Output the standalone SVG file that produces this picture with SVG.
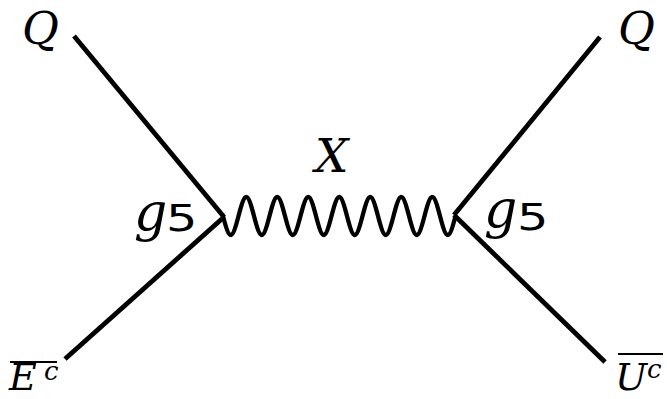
<svg xmlns="http://www.w3.org/2000/svg" width="667" height="399" viewBox="0 0 667 399">
<style>
.ln{stroke:#000;stroke-width:4.8;fill:none;stroke-linecap:butt}
.wv{stroke:#000;stroke-width:4.3;fill:none}
.mi{font-family:"DejaVu Serif",serif;font-style:italic;fill:#000}
.dg{font-family:"DejaVu Sans",sans-serif;fill:#000}
.bar{stroke:#000;stroke-width:2}
</style>
<rect width="667" height="399" fill="#fff"/>
<g id="connectors">
<path class="ln" d="M74 36 L224 217"/>
<path class="ln" d="M224 217 L65 359"/>
<path class="ln" d="M600 37 L454 215"/>
<path class="ln" d="M454 215 L605 362"/>
<path class="wv" d="M223 216 c6.58,25.33 8.92,25.33 15.5,0 c6.58,-25.33 8.92,-25.33 15.5,0 c6.58,25.33 8.92,25.33 15.5,0 c6.58,-25.33 8.92,-25.33 15.5,0 c6.58,25.33 8.92,25.33 15.5,0 c6.58,-25.33 8.92,-25.33 15.5,0 c6.58,25.33 8.92,25.33 15.5,0 c6.58,-25.33 8.92,-25.33 15.5,0 c6.58,25.33 8.92,25.33 15.5,0 c6.58,-25.33 8.92,-25.33 15.5,0 c6.58,25.33 8.92,25.33 15.5,0 c6.58,-25.33 8.92,-25.33 15.5,0 c6.58,25.33 8.92,25.33 15.5,0 c6.58,-25.33 8.92,-25.33 15.5,0 c6.58,25.33 8.92,25.33 15.5,0"/>
</g>
<g id="label-X"><text class="mi" x="315" y="172" font-size="47">X</text></g>
<g id="Q-left"><text class="mi" x="22" y="44" font-size="45">Q</text></g>
<g id="Q-right"><text class="mi" x="618" y="44" font-size="45">Q</text></g>
<g id="vertex-left">
<text class="mi" x="134" y="230" font-size="52">g</text>
<text class="dg" font-size="38" transform="translate(166 231) scale(1.3 1)">5</text>
</g>
<g id="vertex-right">
<text class="mi" x="484" y="227" font-size="52">g</text>
<text class="dg" font-size="38" transform="translate(517 230) scale(1.3 1)">5</text>
</g>
<g id="E-bar">
<line class="bar" x1="10" y1="362" x2="57" y2="362"/>
<text class="mi" x="9" y="390" font-size="38">E</text>
<text class="mi" x="44" y="380" font-size="26">c</text>
</g>
<g id="U-bar">
<line class="bar" x1="618" y1="354" x2="663" y2="354"/>
<text class="mi" x="615" y="390" font-size="38">U</text>
<text class="mi" x="647" y="378" font-size="26">c</text>
</g>
</svg>
